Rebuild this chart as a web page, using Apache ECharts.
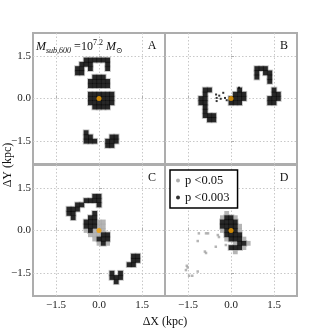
<!DOCTYPE html>
<html>
<head>
<meta charset="utf-8">
<script src="https://cdn.jsdelivr.net/npm/echarts@6/dist/echarts.min.js"></script>
<style>
  html, body { margin: 0; padding: 0; background: #fff; }
  #chart { width: 330px; height: 330px; }
</style>
</head>
<body>
<div id="chart"></div>
<script>
// significance maps on a 0.15 kpc grid, column 15 / row 15 = (0, 0)
// '#' = p < 0.003, '+' = p < 0.05
const panelA = [
  '', '', '', '', '', '',
  '............######',
  '...........###...#',
  '..........##.#...#',
  '..........##',
  '..............###',
  '.............#####',
  '.............#####',
  '',
  '.............######',
  '.............######',
  '.............######',
  '..............####',
  '', '', '', '', '',
  '............#',
  '............##....##',
  '............###..###',
  '.................##',
  '', '', '', ''
]
const panelB = [
  '', '', '', '', '', '', '', '',
  '.....................###',
  '.....................#.##',
  '.....................#..#',
  '........................#',
  '',
  '.........##......#.......#',
  '.........#......###......##',
  '........##.....####.....###',
  '........##.....###......##',
  '.........#',
  '.........#',
  '.........###',
  '..........##',
  '', '', '', '', '', '', '', '', '', ''
]
const panelC = [
  '', '', '', '', '', '', '',
  '..............##',
  '............####',
  '..........##...#',
  '........###',
  '........##....#',
  '.........#...##',
  '............###++',
  '............###++',
  '............+#+++',
  '.............+++##',
  '..............+###',
  '...............+#+',
  '', '',
  '.......................##',
  '.......................##',
  '......................##',
  '',
  '..................#.#',
  '..................###',
  '...................#',
  '', '', ''
]
const panelD = [
  '', '', '', '', '', '', '', '', '', '', '',
  '..............+',
  '.............+##+',
  '.............####',
  '.............####+',
  '.............+###+',
  '..............####',
  '..............+###+',
  '................+##+',
  '...............###+',
  '................+',
  '', '', '', '', '', '', '', '', '', ''
]
// loose single pixels
const bLooseBlack = [[-0.52, 0.14], [-0.5, 0.02], [-0.5, -0.09], [-0.41, 0.1], [-0.36, -0.01],
  [-0.27, 0.2], [-0.21, 0.02], [-0.15, -0.06], [0.28, 0.38]]
const dLooseGrey = [[-1.12, -0.1], [-0.87, -0.1], [-0.8, -0.1], [-1.16, -0.37], [-0.46, -0.16],
  [-0.42, -0.23], [-0.53, -0.57], [-0.18, -0.51], [-0.91, -0.74], [-0.87, -0.79],
  [-1.54, -1.24], [-1.51, -1.3], [-1.57, -1.39], [-1.16, -1.44], [-1.46, -1.59], [-1.35, -1.59]]

const tickValues = [-1.5, 0, 1.5]
const tickLabels = ['\u22121.5', '0.0', '1.5']
const panelLetters = ['A', 'B', 'C', 'D']

const CELL = 0.15
const SERIF = "'Liberation Serif', 'DejaVu Serif', serif"
const GREY = '#a3a3a3'

function cellsFrom(rows, ch) {
  const pts = []
  rows.forEach((row, j) => {
    for (let i = 0; i < row.length; i++) {
      if (row[i] === ch) pts.push([(i - 15) * CELL, (15 - j) * CELL])
    }
  })
  return pts
}

const panels = [panelA, panelB, panelC, panelD]
const loose = [
  { black: [], grey: [] },
  { black: bLooseBlack, grey: [] },
  { black: [], grey: [] },
  { black: [], grey: dLooseGrey }
]
const gridPos = [
  { left: 33, top: 33 },
  { left: 165, top: 33 },
  { left: 33, top: 165 },
  { left: 165, top: 165 }
]

const tickFmt = (v) => tickLabels[tickValues.indexOf(v)] ?? ''

const grid = [], xAxis = [], yAxis = [], series = []
panels.forEach((rows, k) => {
  grid.push({
    ...gridPos[k], width: 132, height: 131,
    show: true, borderColor: '#adadad', borderWidth: 2, backgroundColor: '#fff'
  })
  const axisCommon = {
    type: 'value', gridIndex: k, min: -2.3, max: 2.3,
    axisLine: { show: false },
    axisTick: { show: true, inside: true, length: 3, customValues: tickValues, lineStyle: { color: '#adadad' } },
    splitLine: { show: true, lineStyle: { type: [1.5, 2], color: '#c8c8c8', width: 1 } }
  }
  xAxis.push({
    ...axisCommon,
    axisLabel: {
      show: k >= 2, customValues: tickValues, formatter: tickFmt, margin: 4,
      fontFamily: SERIF, fontSize: 11, color: '#222'
    }
  })
  yAxis.push({
    ...axisCommon,
    axisLabel: {
      show: k % 2 === 0, customValues: tickValues, formatter: tickFmt, margin: 2,
      fontFamily: SERIF, fontSize: 11, color: '#222'
    }
  })
  const black = cellsFrom(rows, '#')
  const grey = cellsFrom(rows, '+')
  const base = { type: 'scatter', xAxisIndex: k, yAxisIndex: k, silent: true, symbol: 'rect' }
  series.push({ ...base, name: 'p <0.05', data: black, symbolSize: 6.6, itemStyle: { color: '#b8b8b8' } })
  series.push({ ...base, name: 'p <0.05', data: grey, symbolSize: 4.8, itemStyle: { color: GREY } })
  series.push({ ...base, name: 'p <0.05', data: loose[k].grey, symbolSize: 2.5, itemStyle: { color: GREY } })
  series.push({ ...base, name: 'p <0.003', data: black, symbolSize: 4.8, itemStyle: { color: '#000' } })
  series.push({ ...base, name: 'p <0.003', data: loose[k].black, symbolSize: 2, itemStyle: { color: '#000' } })
  series.push({ ...base, name: 'centre', data: [[0, 0]], symbol: 'circle', symbolSize: 5, itemStyle: { color: '#f5a000' } })
})

const letterPos = [[152, 46], [284, 46], [152, 178], [284, 178]]
const graphic = panelLetters.map((t, k) => ({
  type: 'text', x: letterPos[k][0], y: letterPos[k][1], z: 10,
  style: { text: t, fontFamily: SERIF, fontSize: 12, fill: '#111', align: 'center', verticalAlign: 'middle' }
}))
graphic.push({
  type: 'text', x: 36, y: 47, z: 10,
  style: {
    text: '{i|M}{s|sub,600}{n| =10}{p|7.2}{i| M}{s|\u2299}',
    verticalAlign: 'middle', fill: '#111',
    rich: {
      i: { fontFamily: SERIF, fontStyle: 'italic', fontSize: 12, lineHeight: 16 },
      n: { fontFamily: SERIF, fontSize: 12, lineHeight: 16 },
      s: { fontFamily: SERIF, fontStyle: 'italic', fontSize: 8, lineHeight: 8, verticalAlign: 'bottom' },
      p: { fontFamily: SERIF, fontSize: 8, lineHeight: 8, verticalAlign: 'top' }
    }
  }
})
graphic.push({
  type: 'text', x: 8, y: 165, rotation: Math.PI / 2, z: 10,
  style: { text: '\u0394Y (kpc)', fontFamily: SERIF, fontSize: 12, fill: '#111', align: 'center', verticalAlign: 'middle' }
})
graphic.push({
  type: 'text', x: 165, y: 322, z: 10,
  style: { text: '\u0394X (kpc)', fontFamily: SERIF, fontSize: 12, fill: '#111', align: 'center', verticalAlign: 'middle' }
})

const chart = echarts.init(document.getElementById('chart'), null, { renderer: 'canvas' })
chart.setOption({
  animation: false,
  backgroundColor: '#fff',
  grid, xAxis, yAxis, series, graphic,
  legend: {
    left: 170, top: 170, orient: 'vertical', selectedMode: false,
    data: [
      { name: 'p <0.05', icon: 'circle', itemStyle: { color: '#999' } },
      { name: 'p <0.003', icon: 'circle', itemStyle: { color: '#000' } }
    ],
    itemWidth: 4, itemHeight: 4, itemGap: 4,
    padding: [4, 8, 4, 6],
    borderColor: '#000', borderWidth: 1.5, backgroundColor: '#fff',
    textStyle: { fontFamily: SERIF, fontSize: 12.5, color: '#111' }
  }
})
</script>
</body>
</html>
